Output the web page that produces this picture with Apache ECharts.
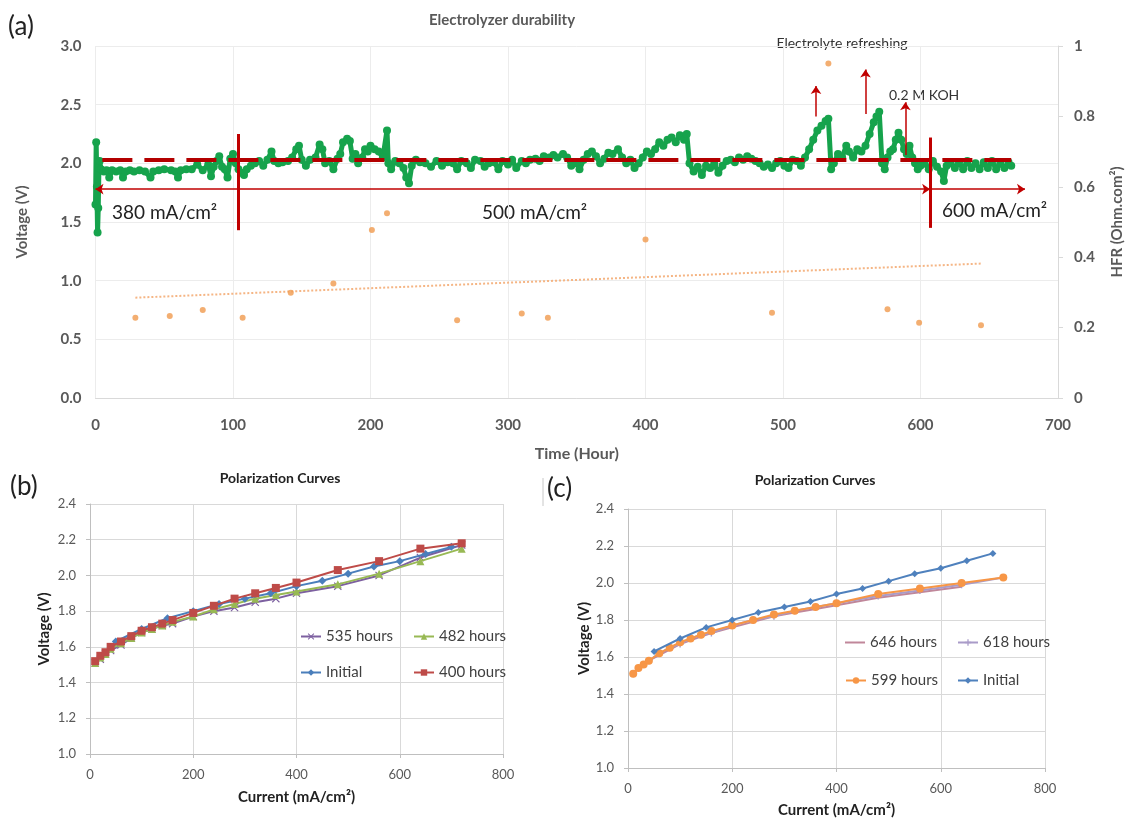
<!DOCTYPE html>
<html>
<head>
<meta charset="utf-8">
<script src="https://cdn.jsdelivr.net/npm/echarts@6/dist/echarts.min.js"></script>
<style>
  html, body { margin: 0; padding: 0; background: #fff; }
  #chart { width: 1133px; height: 819px; }
</style>
</head>
<body>
<div id="chart"></div>
<script>
// ---- (a) durability test ----
// [hour, cell voltage (V)]
const voltage = [
  [0,1.65],[0.5,2.18],[1,1.80],[1.5,1.41],[2,1.62],[2.5,1.96],[3,2.02],[4,1.95],[6,1.93],[8,1.94],
  [10,1.88],[12,1.94],[15,1.93],[18,1.94],[20,1.88],[22,1.93],[25,1.94],[28,1.93],[32,1.94],[36,1.93],
  [40,1.88],[42,1.93],[46,1.94],[50,1.95],[55,1.94],[58,1.93],[60,1.88],[62,1.94],[66,1.95],[70,1.95],
  [74,1.99],[78,1.94],[82,1.99],[84,1.89],[86,1.97],[88,2.02],[90,2.06],[92,1.97],[94,1.95],[96,1.88],
  [98,2.04],[100,2.08],[102,2.0],[104,1.95],[106,1.92],[108,1.90],[110,1.95],[113,1.98],[116,2.0],[119,2.02],
  [122,1.98],[125,2.03],[128,2.10],[130,2.02],[133,2.0],[136,2.01],[140,2.02],[143,2.05],[146,2.12],[148,2.15],
  [150,2.03],[153,1.98],[156,2.03],[160,2.05],[163,2.16],[165,2.12],[167,2.0],[170,2.02],[173,1.95],[176,2.04],
  [178,2.08],[180,2.18],[183,2.21],[185,2.19],[187,2.04],[189,2.08],[191,2.0],[194,2.05],[196,2.12],[198,2.10],
  [200,2.15],[203,2.12],[206,2.10],[209,2.05],[212,2.28],[213,2.0],[215,1.95],[218,2.02],[221,2.0],[224,1.96],
  [226,1.88],[228,1.83],[230,1.98],[233,2.03],[236,2.01],[240,2.0],[244,1.97],[248,2.02],[252,1.98],[256,2.01],
  [260,2.0],[263,1.95],[266,2.02],[270,2.0],[273,1.96],[276,2.03],[280,2.02],[283,1.97],[286,2.0],[290,2.01],
  [293,1.95],[296,2.02],[300,1.99],[303,2.03],[306,1.96],[310,2.02],[313,2.0],[316,2.03],[320,2.04],[323,2.02],
  [326,2.06],[330,2.05],[333,2.07],[336,2.05],[340,2.08],[343,2.05],[346,1.98],[350,2.0],[352,1.95],[355,2.03],
  [358,2.08],[361,2.10],[364,2.06],[367,2.0],[370,2.04],[373,2.09],[376,2.08],[380,2.12],[383,2.05],[386,2.0],
  [389,2.03],[392,1.96],[395,2.0],[398,2.05],[401,2.10],[404,2.08],[407,2.12],[410,2.18],[413,2.15],[416,2.20],
  [419,2.22],[422,2.18],[425,2.24],[428,2.20],[430,2.25],[432,2.0],[435,1.93],[438,1.97],[441,1.90],[444,1.98],
  [447,1.96],[450,2.0],[453,1.92],[456,1.98],[459,2.02],[462,2.03],[465,2.01],[468,2.05],[471,2.03],[474,2.06],
  [477,2.04],[480,2.02],[483,2.0],[486,1.97],[489,1.99],[492,1.96],[495,2.0],[498,2.02],[501,1.98],[504,1.96],
  [507,2.03],[510,2.02],[513,1.98],[516,2.05],[519,2.12],[522,2.20],[525,2.28],[528,2.32],[531,2.36],[533,2.38],
  [535,1.95],[537,2.0],[540,2.08],[543,2.05],[546,2.15],[548,2.10],[551,2.05],[554,2.12],[557,2.10],[560,2.15],
  [563,2.25],[566,2.35],[568,2.40],[570,2.44],[572,2.0],[574,1.95],[576,2.05],[578,2.10],[580,2.12],[582,2.20],
  [584,2.26],[586,2.20],[588,2.12],[590,2.08],[592,2.15],[594,2.05],[596,2.0],[598,1.95],[600,1.98],[603,2.0],
  [606,1.95],[609,2.02],[612,1.97],[615,1.93],[617,1.85],[619,1.98],[622,2.0],[625,1.96],[628,2.01],[631,1.95],
  [634,2.02],[637,1.96],[640,2.0],[643,1.95],[646,2.01],[649,1.96],[652,2.02],[655,1.95],[658,2.0],[661,1.96],
  [664,2.01],[666,1.98]
];
// [hour, HFR (Ohm.cm2)]
const hfr = [
  [29,0.228],[54,0.233],[78,0.25],[107,0.228],[142,0.299],[173,0.325],[201,0.477],[212,0.525],
  [263,0.221],[310,0.24],[329,0.228],[400,0.45],[492,0.242],[533,0.95],[576,0.252],[599,0.214],[644,0.207]
];
const hfrTrend = [[29,0.285],[645,0.382]];
const targetLine = [[5,2.03],[666,2.03]];
const regimeSwitch = [104,607];
const regimeArrowV = 1.78;
const refreshArrows = [[524,2.40,2.66],[560,2.42,2.80],[589,2.07,2.52]];

// ---- (b) polarization curves ----
const currentMain = [10,20,30,40,60,80,100,120,140,160,200,240,280,320,360,400,480,560,640,720];
const currentInitial = [50,100,150,200,250,300,350,400,450,500,550,600,650,700];
const vInitial = [1.63,1.70,1.76,1.80,1.84,1.87,1.90,1.94,1.97,2.01,2.05,2.08,2.12,2.16];
const v400 = [1.52,1.55,1.57,1.60,1.63,1.66,1.69,1.71,1.73,1.75,1.79,1.83,1.87,1.90,1.93,1.96,2.03,2.08,2.15,2.18];
const v482 = [1.51,1.54,1.56,1.59,1.62,1.65,1.68,1.70,1.72,1.74,1.77,1.81,1.84,1.87,1.89,1.91,1.95,2.01,2.08,2.15];
const v535 = [1.51,1.53,1.56,1.58,1.61,1.65,1.68,1.70,1.72,1.73,1.77,1.80,1.82,1.85,1.87,1.90,1.94,2.00,2.10,2.17];

// ---- (c) polarization curves ----
const current646 = [10,20,30,40,60,80,100,120,140,160,200,240,280,320,360,400,480,560,640];
const v599 = [1.51,1.54,1.56,1.58,1.62,1.65,1.68,1.70,1.72,1.74,1.77,1.80,1.83,1.85,1.87,1.89,1.94,1.97,2.00,2.03];
const v618 = [1.51,1.54,1.56,1.58,1.62,1.65,1.67,1.70,1.72,1.73,1.77,1.80,1.82,1.85,1.87,1.89,1.93,1.96,1.99,2.03];
const v646 = [1.51,1.54,1.56,1.58,1.61,1.64,1.67,1.69,1.71,1.73,1.76,1.79,1.82,1.84,1.86,1.88,1.92,1.95,1.98];

const zip = (xs, ys) => xs.map((x, i) => [x, ys[i]]);
const FONT = 'Lato, "Open Sans", sans-serif';
const GRAY = '#595959';
const X_SYMBOL = 'path://M1,0L5,4L9,0L10,1L6,5L10,9L9,10L5,6L1,10L0,9L4,5L0,1Z';
const PLUS_SYMBOL = 'path://M4,0H6V4H10V6H6V10H4V6H0V4H4Z';

const chart = echarts.init(document.getElementById('chart'));

function polarXAxis(gridIndex, gap) {
  return {
    gridIndex, type: 'value', min: 0, max: 800, interval: 200,
    axisLine: { lineStyle: { color: '#bfbfbf' } },
    axisTick: { show: true, length: 4, lineStyle: { color: '#bfbfbf' } },
    splitLine: { lineStyle: { color: '#d9d9d9' } },
    axisLabel: { color: GRAY, fontSize: 13, margin: 14, fontFamily: FONT },
    name: 'Current (mA/cm²)', nameLocation: 'middle', nameGap: gap,
    nameTextStyle: { fontSize: 15, fontWeight: 'bold', color: '#222', fontFamily: FONT }
  };
}
function polarYAxis(gridIndex, gap) {
  return {
    gridIndex, type: 'value', min: 1.0, max: 2.4, interval: 0.2,
    axisLine: { show: true, lineStyle: { color: '#bfbfbf' } },
    axisTick: { show: true, length: 4, lineStyle: { color: '#bfbfbf' } },
    splitLine: { lineStyle: { color: '#d9d9d9' } },
    axisLabel: { color: GRAY, fontSize: 13, margin: 14, fontFamily: FONT, formatter: v => v.toFixed(1) },
    name: 'Voltage (V)', nameLocation: 'middle', nameGap: gap,
    nameTextStyle: { fontSize: 15, fontWeight: 'bold', color: '#222', fontFamily: FONT }
  };
}
function curve(name, xi, data, color, symbol, size, z) {
  return {
    name, type: 'line', xAxisIndex: xi, yAxisIndex: xi + 1, data,
    symbol, symbolSize: size, z: z || 2,
    lineStyle: { color, width: 2 }, itemStyle: { color }
  };
}
function legendItem(name, left, top, lineOnly) {
  const item = {
    data: [name], left, top, padding: 0, itemWidth: 20, itemHeight: 8,
    selectedMode: false,
    formatter: n => n.replace(' (c)', ''),
    textStyle: { fontSize: 15, color: '#404040', fontFamily: FONT }
  };
  if (lineOnly) {
    item.data = [{ name, icon: 'rect' }];
    item.itemHeight = 2;
  }
  return item;
}
const arrowStyle = { color: '#c00000', width: 1.5, type: 'solid' };

const option = {
  animation: false,
  backgroundColor: '#fff',
  textStyle: { fontFamily: FONT },
  grid: [
    { left: 95.5, right: 71, top: 46, height: 352 },
    { left: 90, width: 413, top: 504, height: 250 },
    { left: 628, width: 417, top: 509, height: 261 }
  ],
  xAxis: [
    {
      gridIndex: 0, type: 'value', min: 0, max: 700, interval: 100,
      axisLine: { lineStyle: { color: '#d9d9d9' } },
      axisTick: { show: false },
      splitLine: { lineStyle: { color: '#ececec' } },
      axisLabel: { color: GRAY, fontSize: 15, fontWeight: 'bold', margin: 20, fontFamily: FONT },
      name: 'Time (Hour)', nameLocation: 'middle', nameGap: 48,
      nameTextStyle: { fontSize: 16, fontWeight: 'bold', color: GRAY, fontFamily: FONT }
    },
    polarXAxis(1, 36),
    polarXAxis(2, 35)
  ],
  yAxis: [
    {
      gridIndex: 0, type: 'value', min: 0, max: 3, interval: 0.5,
      axisLine: { show: false }, axisTick: { show: false },
      splitLine: { lineStyle: { color: '#ececec' } },
      axisLabel: { color: GRAY, fontSize: 15, fontWeight: 'bold', margin: 14, fontFamily: FONT, formatter: v => v.toFixed(1) },
      name: 'Voltage (V)', nameLocation: 'middle', nameGap: 66,
      nameTextStyle: { fontSize: 15, fontWeight: 'bold', color: GRAY, fontFamily: FONT }
    },
    {
      gridIndex: 0, type: 'value', position: 'right', min: 0, max: 1, interval: 0.2,
      axisLine: { show: true, lineStyle: { color: '#d9d9d9' } },
      axisTick: { show: true, length: 5, lineStyle: { color: '#d9d9d9' } },
      splitLine: { show: false },
      axisLabel: { color: GRAY, fontSize: 15, fontWeight: 'bold', margin: 16, fontFamily: FONT },
      name: 'HFR (Ohm.com²)', nameLocation: 'middle', nameGap: 52, nameRotate: 90,
      nameTextStyle: { fontSize: 15, fontWeight: 'bold', color: GRAY, fontFamily: FONT }
    },
    polarYAxis(1, 38),
    polarYAxis(2, 36)
  ],
  legend: [
    legendItem('535 hours', 300, 629),
    legendItem('482 hours', 413, 629),
    legendItem('Initial', 300, 665),
    legendItem('400 hours', 413, 665),
    legendItem('646 hours', 845, 635, true),
    legendItem('618 hours', 957, 635),
    legendItem('599 hours', 845, 673),
    legendItem('Initial (c)', 957, 673)
  ],
  series: [
    {
      name: 'Voltage', type: 'line', xAxisIndex: 0, yAxisIndex: 0, data: voltage,
      symbol: 'circle', symbolSize: 8, z: 2,
      lineStyle: { color: '#16a34c', width: 5 }, itemStyle: { color: '#16a34c' }
    },
    {
      name: 'HFR', type: 'scatter', xAxisIndex: 0, yAxisIndex: 1, data: hfr,
      symbolSize: 6, itemStyle: { color: '#f09a4e' }, z: 3
    },
    {
      name: 'HFR trend', type: 'line', xAxisIndex: 0, yAxisIndex: 1, data: hfrTrend,
      symbol: 'none', lineStyle: { color: '#f5b584', width: 2, type: 'dotted' }, z: 2
    },
    {
      name: 'annotations', type: 'line', xAxisIndex: 0, yAxisIndex: 0, data: [], z: 5,
      markLine: {
        silent: true, animation: false, symbolSize: 8,
        label: { show: false },
        data: [
          [{ coord: targetLine[0], symbol: 'none' }, { coord: targetLine[1], symbol: 'none',
            lineStyle: { color: '#b30000', width: 4, type: [30, 12] } }],
          [{ coord: [regimeSwitch[0], 2.25], symbol: 'none' }, { coord: [regimeSwitch[0], 1.43], symbol: 'none',
            lineStyle: { color: '#c00000', width: 3, type: 'solid' } }],
          [{ coord: [regimeSwitch[1], 2.22], symbol: 'none' }, { coord: [regimeSwitch[1], 1.45], symbol: 'none',
            lineStyle: { color: '#c00000', width: 3, type: 'solid' } }],
          [{ coord: [0, regimeArrowV], symbol: 'arrow' }, { coord: [regimeSwitch[1], regimeArrowV], symbol: 'arrow',
            lineStyle: arrowStyle }],
          [{ coord: [regimeSwitch[1], regimeArrowV], symbol: 'none' }, { coord: [676, regimeArrowV], symbol: 'arrow',
            lineStyle: arrowStyle }],
          ...refreshArrows.map(a => [
            { coord: [a[0], a[1]], symbol: 'none' },
            { coord: [a[0], a[2]], symbol: 'arrow', lineStyle: arrowStyle }
          ])
        ]
      }
    },
    curve('535 hours', 1, zip(currentMain, v535), '#7d60a0', X_SYMBOL, 8, 2),
    curve('482 hours', 1, zip(currentMain, v482), '#98b954', 'triangle', 8, 3),
    curve('Initial', 1, zip(currentInitial, vInitial), '#4a7ebb', 'diamond', 8, 4),
    curve('400 hours', 1, zip(currentMain, v400), '#be4b48', 'rect', 8, 5),
    curve('646 hours', 2, zip(current646, v646), '#c0879a', 'none', 6, 2),
    curve('618 hours', 2, zip(currentMain, v618), '#a99bc8', PLUS_SYMBOL, 7, 3),
    curve('599 hours', 2, zip(currentMain, v599), '#f79646', 'circle', 8, 4),
    curve('Initial (c)', 2, zip(currentInitial, vInitial), '#4f81bd', 'diamond', 7, 5)
  ],
  graphic: [
    { type: 'text', left: 8, top: 14, style: { text: '(a)', fontSize: 26, fill: '#222', fontFamily: FONT } },
    { type: 'text', left: 10, top: 474, style: { text: '(b)', fontSize: 26, fill: '#222', fontFamily: FONT } },
    { type: 'text', left: 547, top: 476, style: { text: '(c)', fontSize: 26, fill: '#222', fontFamily: FONT } },
    { type: 'line', shape: { x1: 543, y1: 478, x2: 543, y2: 506 }, style: { stroke: '#c8c8c8', lineWidth: 1 } },
    { type: 'text', x: 502, y: 20, style: { text: 'Electrolyzer durability', fontSize: 15, fontWeight: 'bold',
      fill: GRAY, fontFamily: FONT, align: 'center', verticalAlign: 'middle' } },
    { type: 'text', x: 842, y: 43, style: { text: 'Electrolyte refreshing', fontSize: 14,
      fill: '#333', fontFamily: FONT, align: 'center', verticalAlign: 'middle' } },
    { type: 'text', x: 889, y: 95, style: { text: '0.2 M KOH', fontSize: 14,
      fill: '#333', fontFamily: FONT, verticalAlign: 'middle' } },
    { type: 'text', x: 112, y: 213, style: { text: '380 mA/cm²', fontSize: 19, fill: '#222', fontFamily: FONT, verticalAlign: 'middle' } },
    { type: 'text', x: 482, y: 213, style: { text: '500 mA/cm²', fontSize: 19, fill: '#222', fontFamily: FONT, verticalAlign: 'middle' } },
    { type: 'text', x: 942, y: 211, style: { text: '600 mA/cm²', fontSize: 19, fill: '#222', fontFamily: FONT, verticalAlign: 'middle' } },
    { type: 'text', x: 280, y: 478, style: { text: 'Polarization Curves', fontSize: 14, fontWeight: 'bold',
      fill: '#222', fontFamily: FONT, align: 'center', verticalAlign: 'middle' } },
    { type: 'text', x: 815, y: 480, style: { text: 'Polarization Curves', fontSize: 14, fontWeight: 'bold',
      fill: '#222', fontFamily: FONT, align: 'center', verticalAlign: 'middle' } }
  ]
};

chart.setOption(option);
</script>
</body>
</html>
